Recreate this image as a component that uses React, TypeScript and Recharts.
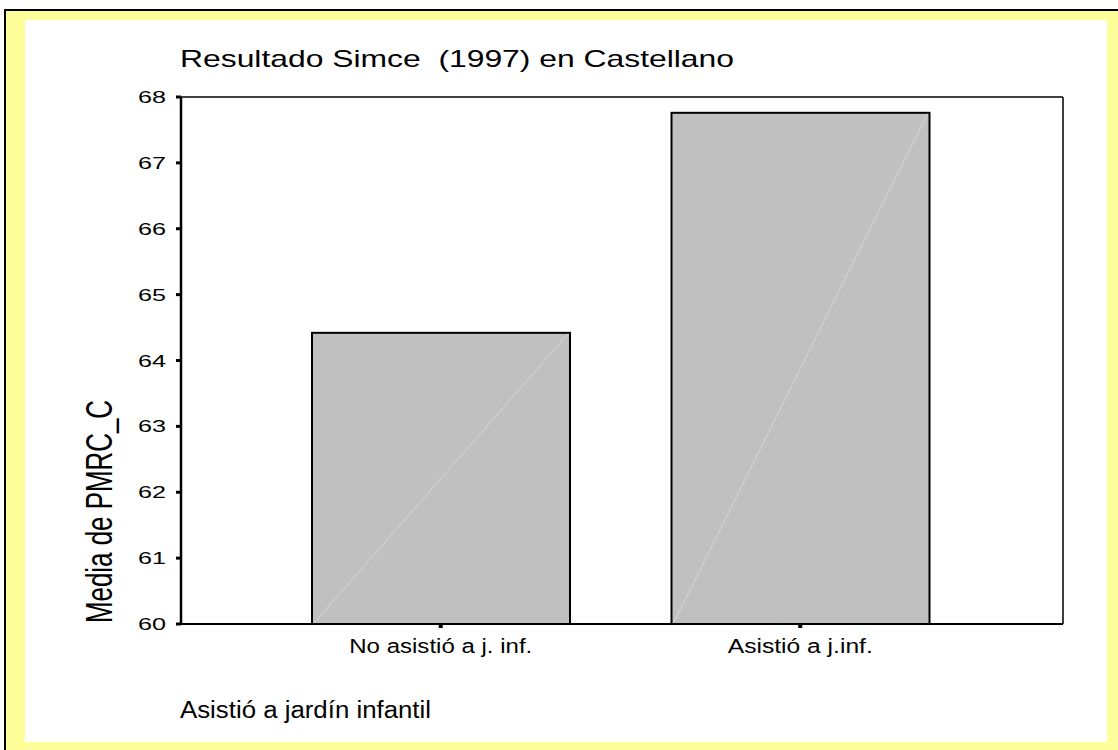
import React from "react";
import { BarChart, Bar, XAxis, YAxis } from "recharts";

// data
const categories = ["No asistió a j. inf.", "Asistió a j.inf."];
const means = [64.42, 67.76];
const yTicks = [60, 61, 62, 63, 64, 65, 66, 67, 68];

const title = "Resultado Simce  (1997) en Castellano";
const xTitle = "Asistió a jardín infantil";
const yTitle = "Media de PMRC_C";

const data = categories.map((name, i) => ({ name, mean: means[i] }));

const FONT = "'Liberation Sans', Arial, sans-serif";
const CAT_LABEL_WIDTH = [183, 145];

// grey bar with the faint diagonal SPSS draws through it
function DiagBar(props: any) {
  const { x, y, width, height } = props;
  return (
    <g>
      <rect x={x} y={y} width={width} height={height} fill="#C0C0C0" stroke="#000" strokeWidth={2} />
      <line x1={x + 2} y1={y + height - 1} x2={x + width - 2} y2={y + 1} stroke="#D6D6D6" strokeWidth={1} />
    </g>
  );
}

function YTick({ x, y, payload }: any) {
  return (
    <text x={x} y={y} dy={6} textAnchor="end" fontSize={17} fontFamily={FONT} fill="#000"
      textLength={28} lengthAdjust="spacingAndGlyphs">
      {payload.value}
    </text>
  );
}

function XTick({ x, y, payload, index }: any) {
  const w = CAT_LABEL_WIDTH[index] ?? 150;
  return (
    <text x={x - w / 2} y={y + 23} fontSize={20} fontFamily={FONT} fill="#000"
      textLength={w} lengthAdjust="spacingAndGlyphs">
      {payload.value}
    </text>
  );
}

export default function App() {
  return (
    <div style={{ position: "absolute", left: 0, top: 0, width: 1118, height: 750, overflow: "hidden", background: "#fff", fontFamily: FONT }}>
      {/* yellow frame */}
      <div style={{ position: "absolute", left: 4, top: 9, width: 1130, height: 760, border: "2px solid #000", background: "#FFFF99", boxSizing: "border-box" }} />
      <div style={{ position: "absolute", left: 25, top: 20, width: 1082, height: 722, background: "#fff" }} />

      <div style={{ position: "absolute", left: 0, top: 0 }}>
        <BarChart width={1118} height={750} data={data} margin={{ top: 96, right: 54, bottom: 96, left: 121 }}>
          {/* top and right edges of the frame */}
          <XAxis xAxisId="top" orientation="top" dataKey="name" height={1} padding={{ left: 80, right: 83 }}
            axisLine={{ stroke: "#000", strokeWidth: 1.5 }} tick={false} tickLine={false} />
          <YAxis yAxisId="right" orientation="right" width={1} domain={[60, 68]} ticks={yTicks}
            axisLine={{ stroke: "#000", strokeWidth: 1.5 }} tick={false} tickLine={false} />
          <XAxis dataKey="name" height={30} padding={{ left: 80, right: 83 }}
            axisLine={{ stroke: "#000", strokeWidth: 2 }}
            tickLine={{ stroke: "#000", strokeWidth: 4 }} tickSize={4} tickMargin={2}
            tick={<XTick />} interval={0} />
          <YAxis width={60} domain={[60, 68]} ticks={yTicks} allowDataOverflow
            axisLine={{ stroke: "#000", strokeWidth: 2.5 }}
            tickLine={{ stroke: "#000", strokeWidth: 3 }} tickSize={5} tickMargin={10}
            tick={<YTick />} />
          <Bar dataKey="mean" barSize={258} shape={<DiagBar />} isAnimationActive={false} />
        </BarChart>
      </div>

      {/* titles */}
      <svg width={1118} height={750} style={{ position: "absolute", left: 0, top: 0, pointerEvents: "none" }}>
        <text x={180} y={67} fontSize={24} fontFamily={FONT} fill="#000" textLength={554}
          lengthAdjust="spacingAndGlyphs" style={{ whiteSpace: "pre" }}>
          {title}
        </text>
        <text x={180} y={718} fontSize={23} fontFamily={FONT} fill="#000" textLength={251}
          lengthAdjust="spacingAndGlyphs">
          {xTitle}
        </text>
        <text transform="translate(112, 511.5) scale(1.45, 1) rotate(-90)" x={0} y={0}
          textAnchor="middle" fontSize={25} fontFamily={FONT} fill="#000" textLength={223}
          lengthAdjust="spacingAndGlyphs">
          {yTitle}
        </text>
      </svg>
    </div>
  );
}
